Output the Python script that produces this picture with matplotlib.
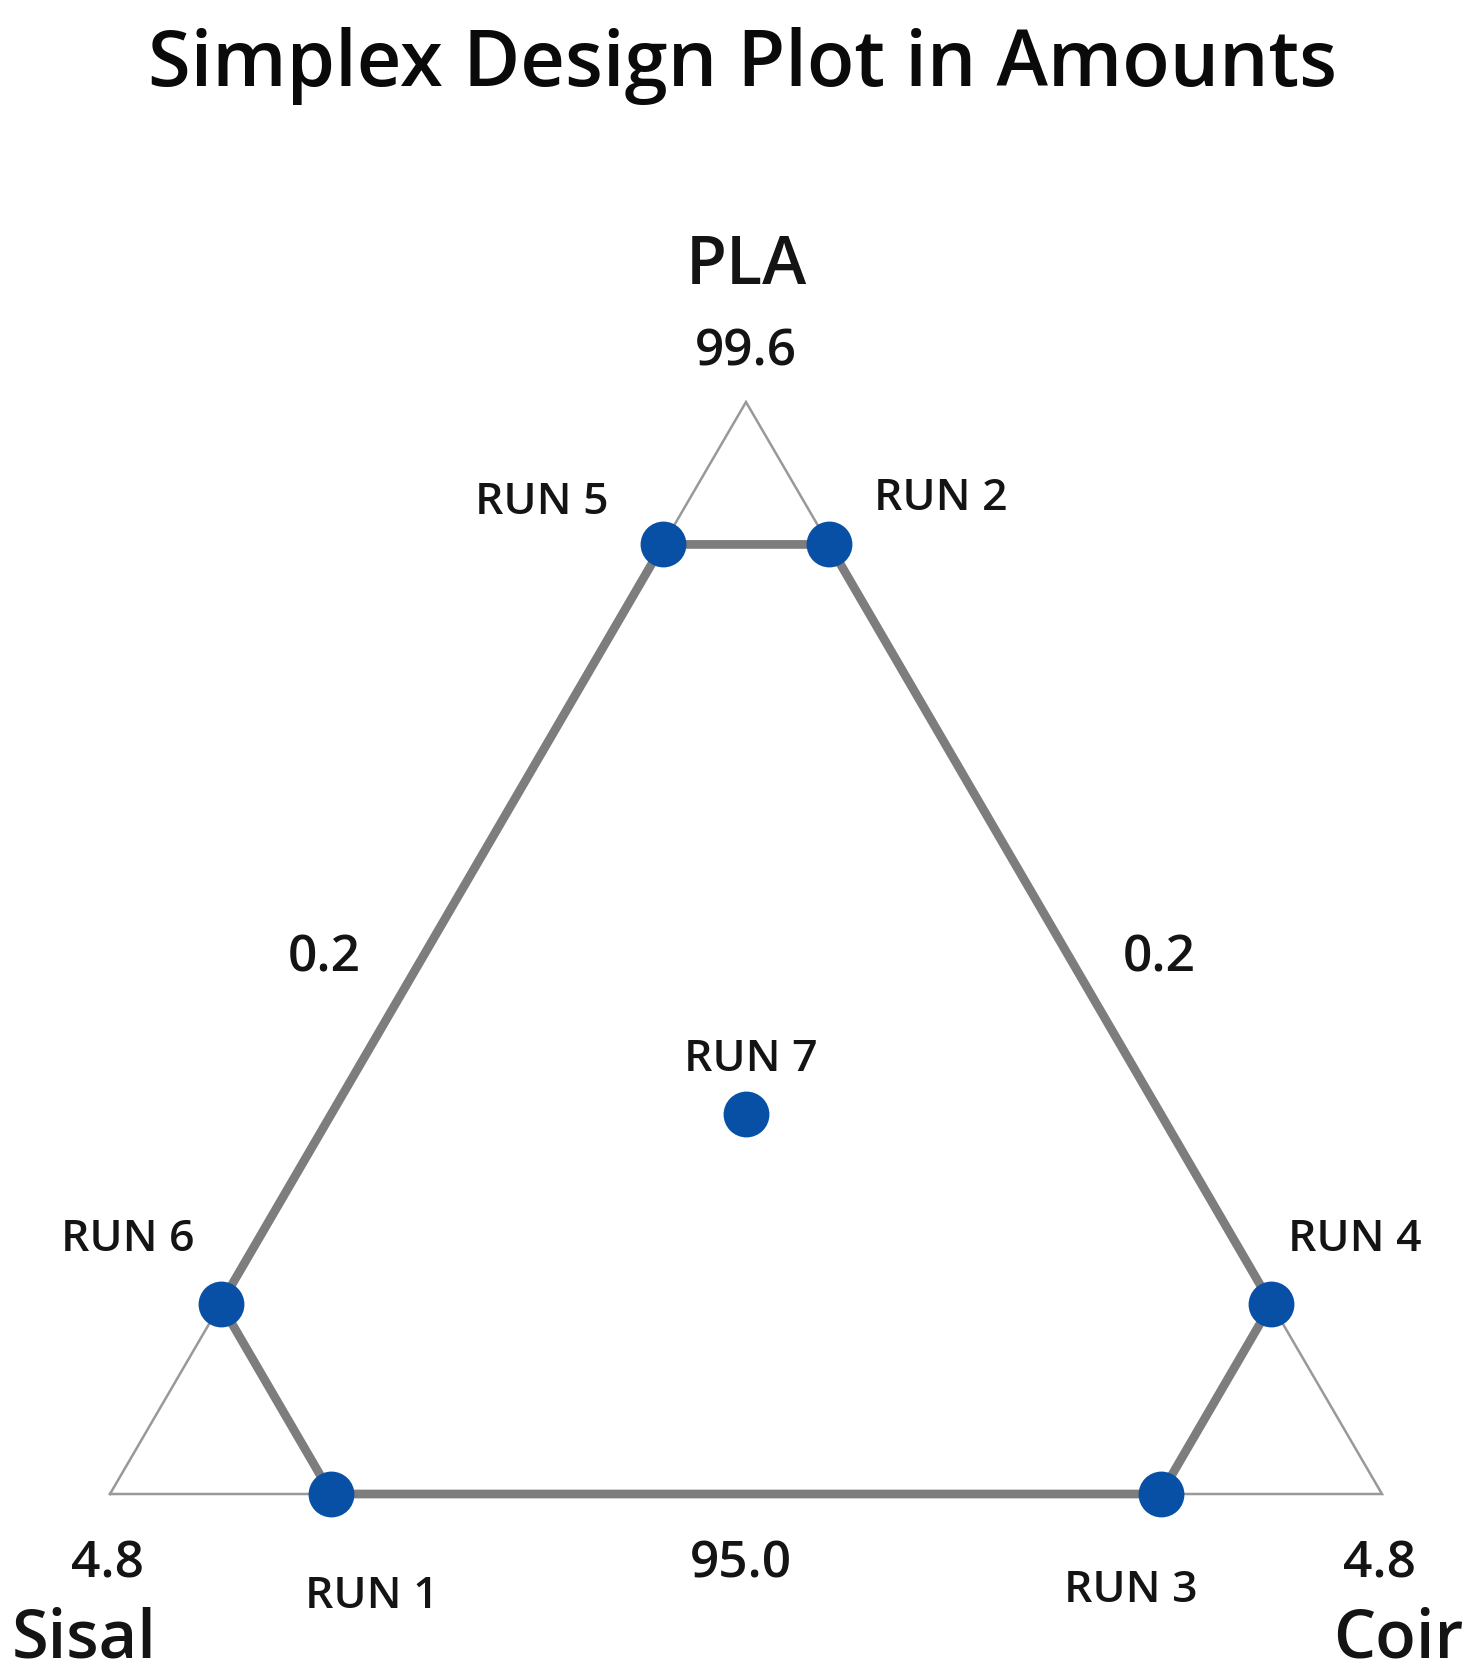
import numpy as np
import matplotlib
matplotlib.use("Agg")
import matplotlib.pyplot as plt

plt.rcParams['font.family'] = ['Open Sans', 'DejaVu Sans']

# ---- data ----
runs = ['RUN 1', 'RUN 2', 'RUN 3', 'RUN 4', 'RUN 5', 'RUN 6', 'RUN 7']
pla = [95.0, 99.0, 95.0, 95.8, 99.0, 95.8, 96.6]
sisal = [4.0, 0.2, 1.0, 0.2, 0.8, 4.0, 1.7]
coir = [1.0, 0.8, 4.0, 4.0, 0.2, 0.2, 1.7]
lower = {'PLA': 95.0, 'Sisal': 0.2, 'Coir': 0.2}
upper = {'PLA': 99.6, 'Sisal': 4.8, 'Coir': 4.8}
boundary_order = ['RUN 5', 'RUN 2', 'RUN 4', 'RUN 3', 'RUN 1', 'RUN 6', 'RUN 5']

rng = upper['PLA'] - lower['PLA']


def to_xy(p, s, c):
    pp = (np.asarray(p) - lower['PLA']) / rng
    cp = (np.asarray(c) - lower['Coir']) / rng
    return cp + 0.5 * pp, pp * np.sqrt(3) / 2


W, H = 1477, 1680
fig = plt.figure(figsize=(W / 100, H / 100), dpi=100)
ax = fig.add_axes([110 / W, (H - 1494) / H, 1272 / W, 1092 / H])
ax.set_xlim(0, 1)
ax.set_ylim(0, np.sqrt(3) / 2)
ax.axis('off')

TXT = '#141414'
WT = 'semibold'
DY = -7  # small downward nudge for all labels

# outer simplex
tx, ty = to_xy([lower['PLA'], lower['PLA'], upper['PLA'], lower['PLA']],
               [upper['Sisal'], lower['Sisal'], lower['Sisal'], upper['Sisal']],
               [lower['Coir'], upper['Coir'], lower['Coir'], lower['Coir']])
ax.plot(tx, ty, color='#999999', lw=1.8, clip_on=False, solid_joinstyle='miter')

idx = {r: i for i, r in enumerate(runs)}
bp = [pla[idx[r]] for r in boundary_order]
bs = [sisal[idx[r]] for r in boundary_order]
bc = [coir[idx[r]] for r in boundary_order]
bx, by = to_xy(bp, bs, bc)
ax.plot(bx, by, color='#7d7d7d', lw=6.3, clip_on=False, zorder=2)

px, py = to_xy(pla, sisal, coir)
ax.plot(px, py, 'o', color='#0750a5', ms=33, mec='none', clip_on=False, zorder=3)

offsets = {'RUN 1': (41, -95), 'RUN 2': (112, 53), 'RUN 3': (-30, -89),
           'RUN 4': (83, 72), 'RUN 5': (-121, 49), 'RUN 6': (-93, 72),
           'RUN 7': (5, 62)}
for r, x, y in zip(runs, px, py):
    ox, oy = offsets[r]
    ax.annotate(r, (x, y), xytext=(ox, oy + DY), textcoords='offset pixels',
                ha='center', va='center', fontsize=32, color=TXT, fontweight=WT,
                annotation_clip=False)

NUM = 37
NAME = 48
vx, vy = tx[:3], ty[:3]


def lab(text, xy, off, size):
    ax.annotate(text, xy, xytext=(off[0], off[1] + DY), textcoords='offset pixels',
                ha='center', va='center', fontsize=size, color=TXT, fontweight=WT,
                annotation_clip=False)


lab(f"{upper['PLA']:.1f}", (vx[2], vy[2]), (0, 56), NUM)
lab('PLA', (vx[2], vy[2]), (0, 142), NAME)
lab(f"{upper['Sisal']:.1f}", (vx[0], vy[0]), (-3, -64), NUM)
lab('Sisal', (vx[0], vy[0]), (-26, -139), NAME)
lab(f"{upper['Coir']:.1f}", (vx[1], vy[1]), (-3, -64), NUM)
lab('Coir', (vx[1], vy[1]), (16, -139), NAME)

lab(f"{lower['Coir']:.1f}", ((vx[0] + vx[2]) / 2, (vy[0] + vy[2]) / 2), (-104, -3), NUM)
lab(f"{lower['Sisal']:.1f}", ((vx[1] + vx[2]) / 2, (vy[1] + vy[2]) / 2), (95, -3), NUM)
lab(f"{lower['PLA']:.1f}", ((vx[0] + vx[1]) / 2, vy[0]), (-5, -64), NUM)

fig.text(743 / W, 1 - 66 / H, 'Simplex Design Plot in Amounts', ha='center', va='center',
         fontsize=56, color='#0a0a0a', fontweight=WT)

fig.savefig('out.png', dpi=100)
